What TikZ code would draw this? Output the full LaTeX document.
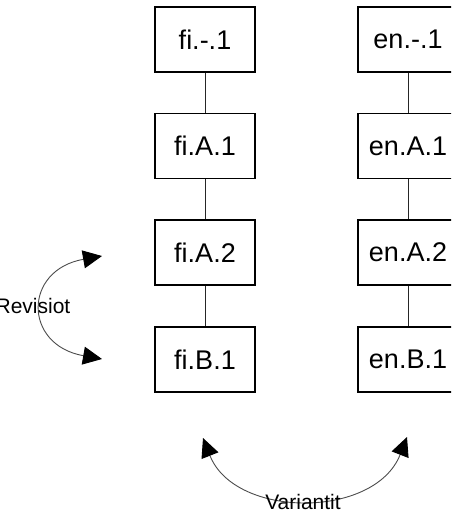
\documentclass[tikz,border=0pt]{standalone}
\usepackage{fontspec}
\setmainfont{Liberation Sans}
\usetikzlibrary{arrows.meta}
\begin{document}
\begin{tikzpicture}[x=1pt,y=-1pt]
        \tikzset{version node/.style={rectangle,draw=black, line width=1.1pt, fill=none, minimum width=100pt, minimum height=65pt, inner sep=0pt, font=\fontsize{27}{30}\selectfont}}
        \tikzset{link/.style={draw=black!85, line width=1pt}}
        \tikzset{swap arrow/.style={draw=black!70, line width=0.9pt, {Triangle[length=19pt,width=18pt,color=black,fill=black]}-{Triangle[length=19pt,width=18pt,color=black,fill=black]}}}
        \useasboundingbox (0,0) rectangle (451,513);
        \clip (0,0) rectangle (451,513);
        % finnish versions
        \node[version node] (fi1) at (205,39.5) {fi.-.1};
        \node[version node] (fiA1) at (205,146) {fi.A.1};
        \node[version node] (fiA2) at (205,252.5) {fi.A.2};
        \node[version node] (fiB1) at (205,359.5) {fi.B.1};
        % english versions
        \node[version node] (en1) at (408,39.5) {en.-.1};
        \node[version node] (enA1) at (408,146) {en.A.1};
        \node[version node] (enA2) at (408,252.5) {en.A.2};
        \node[version node] (enB1) at (408,359.5) {en.B.1};
        \draw[link] (fi1) -- (fiA1) -- (fiA2) -- (fiB1);
        \draw[link] (en1) -- (enA1) -- (enA2) -- (enB1);
        % revisions
        \coordinate (revtop) at (102,256);
        \coordinate (revbot) at (102,359);
        \draw[swap arrow] (revtop) .. controls (23,270) and (23,345) .. (revbot);
        \node[font=\fontsize{21}{24}\selectfont] (rev) at (33,306) {Revisiot};
        % variants
        \coordinate (varleft) at (203,438);
        \coordinate (varright) at (407,437);
        \draw[swap arrow] (varleft) .. controls (235,519) and (375,519) .. (varright);
        \node[font=\fontsize{21}{24}\selectfont] (var) at (303,502) {Variantit};
      \end{tikzpicture}
\end{document}
